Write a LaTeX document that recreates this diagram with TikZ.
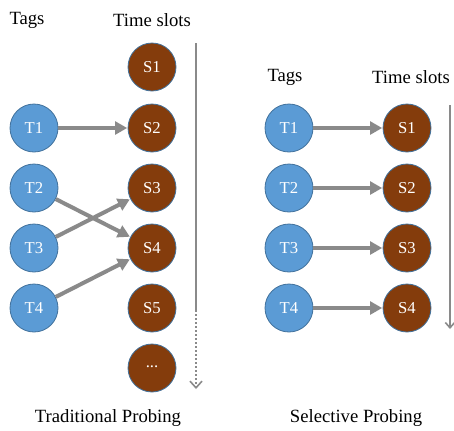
\documentclass[tikz,border=0pt]{standalone}
\usepackage{fontspec}
\setmainfont{Liberation Serif}
\usetikzlibrary{arrows.meta}
\definecolor{tagblue}{HTML}{5B9BD5}
\definecolor{slotbrown}{HTML}{843C0C}
\definecolor{rimblue}{HTML}{41719C}
\definecolor{linkgray}{HTML}{8A8A8A}
\begin{document}
\begin{tikzpicture}[x=0.75pt,y=-0.75pt,
  tagnode/.style={circle,draw=rimblue,line width=0.6pt,fill=tagblue,minimum size=36pt,inner sep=0pt,text=white,font=\fontsize{12.5}{14}\selectfont},
  slotnode/.style={circle,draw=rimblue,line width=0.6pt,fill=slotbrown,minimum size=36pt,inner sep=0pt,text=white,font=\fontsize{12.5}{14}\selectfont},
  head/.style={font=\fontsize{14}{16}\selectfont},
  link/.style={draw=linkgray,line width=3pt,-{Triangle[length=9pt,width=9.5pt]},shorten >=0.3pt},
  timeline/.style={draw=linkgray,line width=1.5pt}]
\useasboundingbox (0,0) rectangle (454,430);

% ---- traditional probing ----
\node[head] (tagsA) at (27,20) {Tags};
\node[head] (slotsA) at (152,20) {Time slots};
\foreach \i/\y in {1/128,2/188,3/248,4/308}
  \node[tagnode] (aT\i) at (34,\y) {T\i};
\foreach \i/\y in {1/67,2/128,3/188,4/248,5/308}
  \node[slotnode] (aS\i) at (152,\y) {S\i};
\node[slotnode] (aSx) at (152,368) {\raisebox{1.5pt}{...}};
\draw[link] (aT1) -- (aS2);
\draw[link] (aT2) -- (aS4);
\draw[link] (aT3) -- (aS3);
\draw[link] (aT4) -- (aS4);
\coordinate (aTop) at (196,43);
\coordinate (aMid) at (196,310);
\coordinate (aEnd) at (196,389);
\draw[timeline] (aTop) -- (aMid);
\draw[timeline,line width=1.3pt,dash pattern=on 1.6pt off 1.4pt,-{Straight Barb[length=5pt,width=9pt,line width=1.2pt]}] (aMid) -- (aEnd);
\node[head] (capA) at (108,418) {Traditional Probing};

% ---- selective probing ----
\node[head] (tagsB) at (285,77) {Tags};
\node[head] (slotsB) at (411,77) {Time slots};
\foreach \i/\y in {1/128,2/188,3/248,4/308}{
  \node[tagnode] (bT\i) at (289,\y) {T\i};
  \node[slotnode] (bS\i) at (407,\y) {S\i};
  \draw[link] (bT\i) -- (bS\i);
}
\coordinate (bTop) at (450,105);
\coordinate (bEnd) at (450,329);
\draw[timeline,line width=1.2pt,-{Straight Barb[length=4pt,width=7pt,line width=1.2pt]}] (bTop) -- (bEnd);
\node[head] (capB) at (356,418) {Selective Probing};
\end{tikzpicture}
\end{document}
